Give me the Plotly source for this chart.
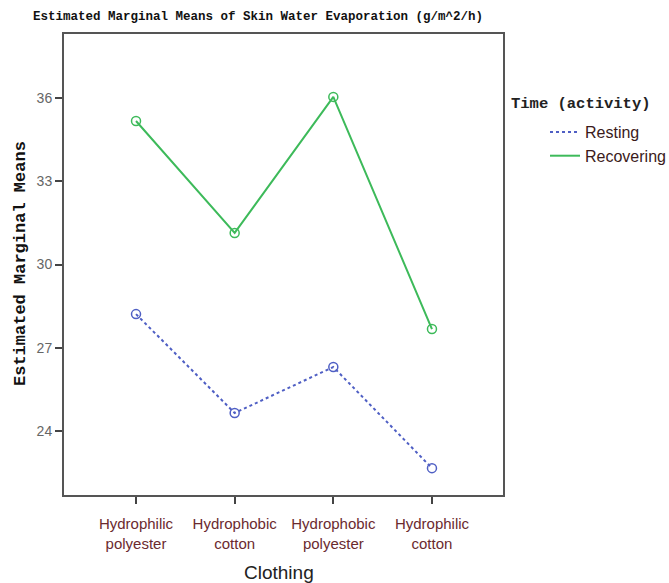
import plotly.graph_objects as go

categories = ["Hydrophilic<br>polyester", "Hydrophobic<br>cotton", "Hydrophobic<br>polyester", "Hydrophilic<br>cotton"]
resting = [28.21, 24.64, 26.30, 22.65]
recovering = [35.18, 31.14, 36.05, 27.67]
y_ticks = [24, 27, 30, 33, 36]
y_tick_labels = ["24", "27", "30", "33", "36"]

x_idx = list(range(len(categories)))
BLUE = "#4f5fc4"
GREEN = "#3dba5a"

fig = go.Figure()
# lines (shown in legend)
fig.add_trace(go.Scatter(x=x_idx, y=resting, name="Resting", mode="lines",
                         line=dict(color=BLUE, width=2, dash="dot")))
fig.add_trace(go.Scatter(x=x_idx, y=recovering, name="Recovering", mode="lines",
                         line=dict(color=GREEN, width=2)))
# open circle markers (not in legend)
fig.add_trace(go.Scatter(x=x_idx, y=resting, mode="markers", showlegend=False,
                         marker=dict(symbol="circle-open", size=9, color=BLUE, line=dict(width=1.5))))
fig.add_trace(go.Scatter(x=x_idx, y=recovering, mode="markers", showlegend=False,
                         marker=dict(symbol="circle-open", size=9, color=GREEN, line=dict(width=1.5))))

fig.update_layout(
    width=669, height=583,
    margin=dict(l=64, r=166, t=34, b=88),
    plot_bgcolor="white", paper_bgcolor="white",
    font=dict(family="Arial, Liberation Sans", size=13, color="#333"),
    title=dict(text="<b>Estimated Marginal Means of Skin Water Evaporation (g/m^2/h)</b>",
               x=258/669, xanchor="center", y=1 - 16/583, yanchor="middle",
               font=dict(family="Liberation Mono", size=12.5, color="#111")),
    showlegend=True,
    legend=dict(xref="container", yref="container",
                x=545/669, xanchor="left", y=1 - 115/583, yanchor="top",
                font=dict(family="Arial, Liberation Sans", size=16, color="#3a1a1a"),
                bgcolor="rgba(0,0,0,0)", itemwidth=30),
    xaxis=dict(
        range=[-0.73, 3.72], tickmode="array", tickvals=x_idx, ticktext=categories,
        showgrid=False, zeroline=False, showline=True, linecolor="#555", linewidth=2, mirror=True,
        ticks="outside", ticklen=7, tickwidth=2, tickcolor="#444", ticklabelstandoff=7,
        tickfont=dict(family="Arial, Liberation Sans", size=15, color="#6b2a2f"),
        automargin=False,
    ),
    yaxis=dict(
        range=[21.68, 38.32], tickmode="array", tickvals=y_ticks, ticktext=y_tick_labels,
        showgrid=False, zeroline=False, showline=True, linecolor="#555", linewidth=2, mirror=True,
        ticks="outside", ticklen=7, tickwidth=2, tickcolor="#444",
        tickfont=dict(family="Arial, Liberation Sans", size=14, color="#666"),
        automargin=False,
    ),
)

fig.add_annotation(
    text="<b>Time (activity)</b>", xref="paper", yref="paper",
    x=(509 - 64) / 439, xanchor="left", y=1 - (104 - 34) / 461, yanchor="middle",
    showarrow=False, font=dict(family="Liberation Mono", size=15.5, color="#222"),
)
fig.add_annotation(
    text="Clothing", xref="paper", yref="paper",
    x=(279 - 64) / 439, xanchor="center", y=1 - (572 - 34) / 461, yanchor="middle",
    showarrow=False, font=dict(family="Arial, Liberation Sans", size=19, color="#222"),
)
fig.add_annotation(
    text="<b>Estimated Marginal Means</b>", xref="paper", yref="paper",
    x=(20 - 64) / 439, xanchor="center", y=1 - (264 - 34) / 461, yanchor="middle",
    textangle=-90, showarrow=False,
    font=dict(family="Liberation Mono", size=17, color="#111"),
)

fig.write_html("out.html")
